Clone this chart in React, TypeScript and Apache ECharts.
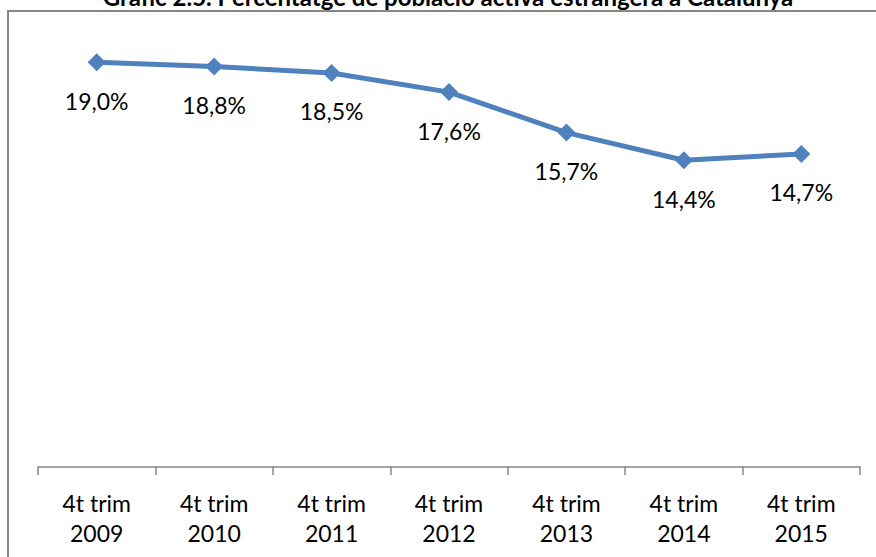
import React, { useEffect, useRef } from "react";
import * as echarts from "echarts";

const titleText = "Gràfic 2.5. Percentatge de població activa estrangera a Catalunya";
const categories = [
  "4t trim\n2009",
  "4t trim\n2010",
  "4t trim\n2011",
  "4t trim\n2012",
  "4t trim\n2013",
  "4t trim\n2014",
  "4t trim\n2015",
];
const values = [19.0, 18.8, 18.5, 17.6, 15.7, 14.4, 14.7];

const FONT = "Lato, 'Open Sans', sans-serif";

export default function App() {
  const ref = useRef<HTMLDivElement>(null);
  useEffect(() => {
    if (!ref.current) return;
    const chart = echarts.init(ref.current, null, { renderer: "svg" });
    chart.setOption({
      animation: false,
      backgroundColor: "#ffffff",
      grid: { left: 38, right: 16, top: 41, bottom: 90, containLabel: false },
      graphic: [
        {
          type: "rect",
          shape: { x: 8, y: 11, width: 1000, height: 1000 },
          style: { fill: "none", stroke: "#868686", lineWidth: 2 },
          silent: true,
        },
        {
          type: "text",
          x: 448,
          y: -4,
          style: {
            text: titleText,
            font: `bold 24px ${FONT}`,
            fill: "#000000",
            textAlign: "center",
            textVerticalAlign: "middle",
          },
          silent: true,
        },
      ],
      xAxis: {
        type: "category",
        data: categories,
        boundaryGap: true,
        axisLine: { show: true, lineStyle: { color: "#868686", width: 1.5 } },
        axisTick: { show: true, length: 8, lineStyle: { color: "#868686", width: 1.5 } },
        axisLabel: {
          margin: 21,
          fontFamily: FONT,
          fontSize: 23,
          lineHeight: 30,
          color: "#000000",
        },
      },
      yAxis: {
        type: "value",
        min: 0,
        max: 20,
        show: false,
        splitLine: { show: false },
      },
      series: [
        {
          type: "line",
          data: values,
          symbol: "diamond",
          symbolSize: 18,
          lineStyle: { color: "#4F81BD", width: 5 },
          itemStyle: { color: "#4F81BD" },
          label: {
            show: true,
            position: "bottom",
            distance: 18,
            fontFamily: FONT,
            fontSize: 23,
            color: "#000000",
            formatter: (p: any) => p.value.toFixed(1).replace(".", ",") + "%",
          },
        },
      ],
    });
    return () => chart.dispose();
  }, []);
  return (
    <div
      ref={ref}
      style={{ position: "fixed", left: 0, top: 0, width: 876, height: 557 }}
    />
  );
}
